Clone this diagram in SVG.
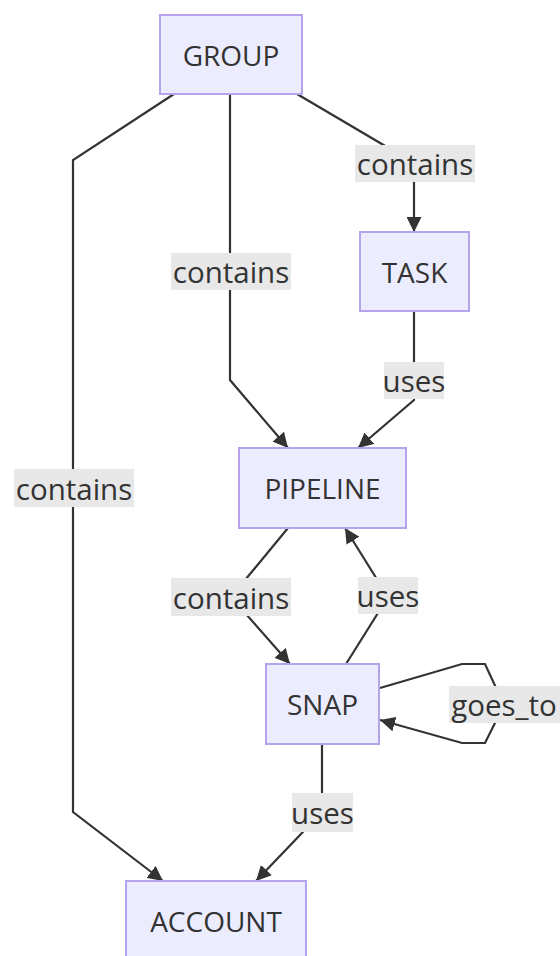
<svg xmlns="http://www.w3.org/2000/svg" width="560" height="956" viewBox="0 0 560 956">
<style>
.node rect{fill:#ECECFF;stroke:#B7A2EC;stroke-width:2}
.node text{font-family:"Open Sans","Noto Sans",sans-serif;font-size:28px;fill:#333;text-anchor:middle;dominant-baseline:central}
.edge path{fill:none;stroke:#333;stroke-width:2.2}
.lbl rect{fill:#E8E8E8}
.lbl text{font-family:"Open Sans","Noto Sans",sans-serif;font-size:29.5px;fill:#333;text-anchor:middle;dominant-baseline:central}
</style>
<defs>
<marker id="arr" viewBox="0 0 10 10" refX="10" refY="5" markerUnits="userSpaceOnUse" markerWidth="15" markerHeight="15" orient="auto">
<path d="M0,0 L10,5 L0,10 z" fill="#333"/>
</marker>
</defs>
<rect width="560" height="956" fill="#fff"/>
<g id="edges">
<g class="edge"><path d="M174,94 L73,160 L73,812 L163,881" marker-end="url(#arr)"/></g>
<g class="edge"><path d="M230,94 L230,380 L288,448" marker-end="url(#arr)"/></g>
<g class="edge"><path d="M297,94 L414,163 L414,232" marker-end="url(#arr)"/></g>
<g class="edge"><path d="M414,311 L414,400 L358,448" marker-end="url(#arr)"/></g>
<g class="edge"><path d="M288,528 L231,597 L290,664" marker-end="url(#arr)"/></g>
<g class="edge"><path d="M346,664 L388,597 L345,528" marker-end="url(#arr)"/></g>
<g class="edge"><path d="M380,688 L462,664 L485,664 L504,705 L485,743 L462,743 L380,720" marker-end="url(#arr)"/></g>
<g class="edge"><path d="M322,744 L322,812 L256,881" marker-end="url(#arr)"/></g>
<g class="lbl"><rect x="14" y="469" width="120" height="38"/><text x="74" y="488">contains</text></g>
<g class="lbl"><rect x="171" y="253" width="120" height="37"/><text x="231" y="271.5">contains</text></g>
<g class="lbl"><rect x="355" y="145" width="120" height="37"/><text x="415" y="163.5">contains</text></g>
<g class="lbl"><rect x="384" y="362" width="60" height="37"/><text x="414" y="380.5">uses</text></g>
<g class="lbl"><rect x="171" y="578" width="120" height="38"/><text x="231" y="597">contains</text></g>
<g class="lbl"><rect x="358" y="577" width="60" height="37"/><text x="388" y="595.5">uses</text></g>
<g class="lbl"><rect x="449" y="686" width="111" height="37"/><text x="504" y="704.5">goes_to</text></g>
<g class="lbl"><rect x="292" y="793" width="61" height="39"/><text x="322.5" y="812">uses</text></g>
</g>
<g id="GROUP" class="node"><rect x="160" y="15" width="142" height="79"/><text x="231" y="54.5">GROUP</text></g>
<g id="TASK" class="node"><rect x="360" y="232" width="109" height="79"/><text x="414.5" y="271.5">TASK</text></g>
<g id="PIPELINE" class="node"><rect x="239" y="448" width="167" height="80"/><text x="322.5" y="488">PIPELINE</text></g>
<g id="SNAP" class="node"><rect x="266" y="664" width="113" height="80"/><text x="322.5" y="704">SNAP</text></g>
<g id="ACCOUNT" class="node"><rect x="126" y="881" width="180" height="80"/><text x="216" y="921">ACCOUNT</text></g>
</svg>
